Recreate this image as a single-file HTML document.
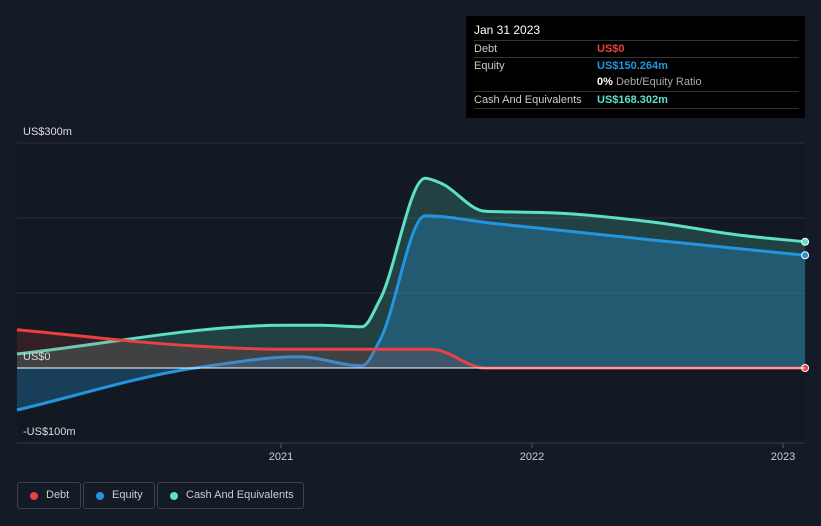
<!DOCTYPE html>
<html><head><meta charset="utf-8"><style>
body{margin:0;background:#151b26;font-family:"Liberation Sans",sans-serif;}
#wrap{position:relative;width:821px;height:526px;overflow:hidden;background:#151b26}
svg{position:absolute;left:0;top:0}
.tip{position:absolute;left:466px;top:16px;width:339px;height:102px;background:#000;color:#ccc;font-size:11px}
.tip .row{position:absolute;left:8px;width:325px;border-top:1px solid #333;height:16px;line-height:16px}
.tip .v{position:absolute;left:123px;font-weight:bold}
.leg{position:absolute;top:482px;height:27px;border:1px solid #3a4150;border-radius:3px;color:#ccc;font-size:11px;line-height:25px;box-sizing:border-box;padding-left:28px;white-space:nowrap}
.leg i{position:absolute;left:12px;top:9px;width:8px;height:8px;border-radius:50%}
</style></head><body>
<div id="wrap">
<svg id="svg" width="821" height="526"></svg>
<div class="tip">
<div style="position:absolute;left:8px;top:7px;color:#fff;font-size:12px">Jan 31 2023</div>
<div class="row" style="top:24px">Debt<span class="v" style="color:#e84142">US$0</span></div>
<div class="row" style="top:41px">Equity<span class="v" style="color:#2394df">US$150.264m</span></div>
<div class="row" style="top:58px;border-top:none"><span class="v" style="color:#fff">0% <span style="color:#aaa;font-weight:normal">Debt/Equity Ratio</span></span></div>
<div class="row" style="top:75px;border-bottom:1px solid #333">Cash And Equivalents<span class="v" style="color:#5ce0c6">US$168.302m</span></div>
</div>
<div class="leg" style="left:17px;width:64px"><i style="background:#e84142"></i>Debt</div>
<div class="leg" style="left:83px;width:72px"><i style="background:#2394df"></i>Equity</div>
<div class="leg" style="left:157px;width:147px"><i style="background:#5ce0c6"></i>Cash And Equivalents</div>
</div>
<script>
const debtT=[2019.948,2020.677,2020.99,2021.6,2021.813,2023.088];
const debtV=[51,29,25,25,0,0];
const eqT=[2019.948,2020.677,2021.07,2021.323,2021.394,2021.574,2021.84,2022.47,2023.088];
const eqV=[-56,1,15,3,37,203,193,171,150.264];
const cashT=[2019.948,2021.016,2021.155,2021.323,2021.394,2021.574,2021.633,2021.813,2022.072,2022.47,2022.83,2023.088];
const cashV=[18.7,57,57,55,91,253,247,209,207,195,177,168.302];
const yTicks=[300,200,100,0,-100];
const yLabels={300:"US$300m",0:"US$0","-100":"-US$100m"};
const xTicks=[2021,2022,2023];
const X=t=>281+(t-2021)*251, Y=v=>368-v*0.75;
const svg=document.getElementById('svg'),NS="http://www.w3.org/2000/svg";
function mk(tag,a,name){const e=document.createElementNS(NS,tag);for(const k in a)e.setAttribute(k,a[k]);


svg.appendChild(e);return e;}
mk('rect',{x:17,y:143,width:788,height:300,fill:'#131922'},'plot-bg');
yTicks.forEach(v=>{if(v!==0)mk('line',{x1:17,x2:805,y1:Y(v),y2:Y(v),stroke:'#2a313d','stroke-width':1},'gridline');});
xTicks.forEach(v=>{mk('line',{x1:X(v),x2:X(v),y1:443,y2:448,stroke:'#555'},'x-tick');const t=mk('text',{x:X(v),y:460,fill:'#ccc','font-size':11,'text-anchor':'middle'},'x-tick-label');t.textContent=v;});
mk('line',{x1:17,x2:805,y1:443,y2:443,stroke:'#333b48'},'x-axis');
function path(T,V){const p=T.map((t,i)=>[X(t),Y(V[i])]);const n=p.length;
const s=[],m=[];for(let i=0;i<n-1;i++)s.push((p[i+1][1]-p[i][1])/(p[i+1][0]-p[i][0]));
m[0]=s[0];m[n-1]=s[n-2];
for(let i=1;i<n-1;i++){if(s[i-1]*s[i]<=0)m[i]=0;else{const h0=p[i][0]-p[i-1][0],h1=p[i+1][0]-p[i][0];m[i]=3*(h0+h1)/((2*h1+h0)/s[i-1]+(h1+2*h0)/s[i]);}}
let d="M"+p[0];
for(let i=0;i<n-1;i++){const a=p[i],b=p[i+1],h=(b[0]-a[0])/3;d+=` C${a[0]+h},${a[1]+m[i]*h} ${b[0]-h},${b[1]-m[i+1]*h} ${b[0]},${b[1]}`;}return d;}
function series(T,V,c,name,op){const d=path(T,V);
mk('path',{d:d+` L${X(T[T.length-1])},368 L${X(T[0])},368 Z`,fill:c,'fill-opacity':op},name+'-area');
mk('path',{d:d,fill:'none',stroke:c,'stroke-width':3},name+'-line');
mk('circle',{cx:X(T[T.length-1]),cy:Y(V[V.length-1]),r:3.5,fill:c,stroke:'#fff','stroke-width':1},name+'-end-point');}
series(cashT,cashV,'#5ce0c6','cash',0.2);
series(eqT,eqV,'#2394df','equity',0.3);
series(debtT,debtV,'#e84142','debt',0.15);
mk('line',{x1:17,x2:805,y1:368,y2:368,stroke:'#fff','stroke-width':1},'zero-line');
yTicks.forEach(v=>{if(yLabels[v]!==undefined){const t=mk('text',{x:23,y:Y(v)-8,fill:'#ddd','font-size':11},'y-tick-label');t.textContent=yLabels[v];}});
</script>
</body></html>
